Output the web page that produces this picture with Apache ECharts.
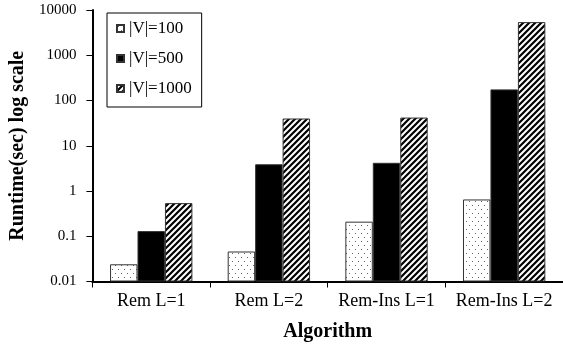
<!DOCTYPE html>
<html>
<head>
<meta charset="utf-8">
<script src="https://cdn.jsdelivr.net/npm/echarts@6/dist/echarts.min.js"></script>
<style>html,body{margin:0;padding:0;background:#fff;}#c{width:563px;height:347px;}</style>
</head>
<body>
<div id="c"></div>
<script>
var categories = ['Rem L=1', 'Rem L=2', 'Rem-Ins L=1', 'Rem-Ins L=2'];
var seriesNames = ['|V|=100', '|V|=500', '|V|=1000'];
var v100 = [0.024, 0.046, 0.21, 0.65];
var v500 = [0.13, 3.9, 4.2, 176];
var v1000 = [0.54, 40, 42, 5400];
var yTickLabels = ['0.01', '0.1', '1', '10', '100', '1000', '10000'];

var FONT = "'Liberation Serif','Times New Roman',serif";

function dotPattern() {
  var c = document.createElement('canvas');
  c.width = 6; c.height = 8;
  var g = c.getContext('2d');
  g.fillStyle = '#fff'; g.fillRect(0, 0, 6, 8);
  g.fillStyle = '#666';
  g.fillRect(1, 1, 1, 1);
  g.fillRect(4, 5, 1, 1);
  return c;
}
function hatchPattern() {
  var c = document.createElement('canvas');
  var s = 6;
  c.width = s; c.height = s;
  var g = c.getContext('2d');
  g.fillStyle = '#fff'; g.fillRect(0, 0, s, s);
  g.strokeStyle = '#000'; g.lineWidth = 2.2;
  g.beginPath();
  g.moveTo(-1, s + 1); g.lineTo(s + 1, -1);
  g.moveTo(-1, 1); g.lineTo(1, -1);
  g.moveTo(s - 1, s + 1); g.lineTo(s + 1, s - 1);
  g.stroke();
  return c;
}

var chart = echarts.init(document.getElementById('c'), null, {renderer: 'canvas'});
var colors = [
  {image: dotPattern(), repeat: 'repeat'},
  '#000',
  {image: hatchPattern(), repeat: 'repeat'}
];
var data = [v100, v500, v1000];
var series = seriesNames.map(function (n, i) {
  return {
    name: n,
    type: 'bar',
    data: data[i],
    barGap: '0%',
    barCategoryGap: '30%',
    itemStyle: {color: colors[i], borderColor: '#333', borderWidth: 1},
    emphasis: {disabled: true}
  };
});

chart.setOption({
  animation: false,
  backgroundColor: '#fff',
  grid: {left: 89, right: 0, top: 10, bottom: 65.5, containLabel: false},
  legend: {
    orient: 'vertical',
    left: 107, top: 13,
    padding: [7, 10, 10, 9],
    borderColor: '#000', borderWidth: 1,
    itemGap: 13,
    itemWidth: 7, itemHeight: 7,
    icon: 'rect',
    textStyle: {fontFamily: FONT, fontSize: 17, color: '#000'},
    data: seriesNames
  },
  xAxis: {
    type: 'category',
    data: categories,
    name: 'Algorithm',
    nameLocation: 'middle',
    nameGap: 40,
    nameTextStyle: {fontFamily: FONT, fontSize: 20, fontWeight: 'bold', color: '#000'},
    axisLine: {lineStyle: {color: '#000', width: 2}},
    axisTick: {show: true, inside: false, length: 6, interval: 0, lineStyle: {color: '#000', width: 1}},
    axisLabel: {fontFamily: FONT, fontSize: 18, color: '#000', margin: 11, interval: 0},
    splitLine: {show: false}
  },
  yAxis: {
    type: 'log',
    logBase: 10,
    min: 0.01,
    max: 10000,
    startValue: 0.01,
    interval: 1,
    name: 'Runtime(sec) log scale',
    nameLocation: 'middle',
    nameGap: 63,
    nameTextStyle: {fontFamily: FONT, fontSize: 20, fontWeight: 'bold', color: '#000'},
    axisLine: {show: true, lineStyle: {color: '#000', width: 2}},
    axisTick: {show: true, inside: false, length: 6, lineStyle: {color: '#000', width: 1}},
    axisLabel: {
      fontFamily: FONT, fontSize: 15, color: '#000', margin: 16,
      formatter: function (v, i) { return yTickLabels[i]; }
    },
    splitLine: {show: false}
  },
  series: series
});
</script>
</body>
</html>
